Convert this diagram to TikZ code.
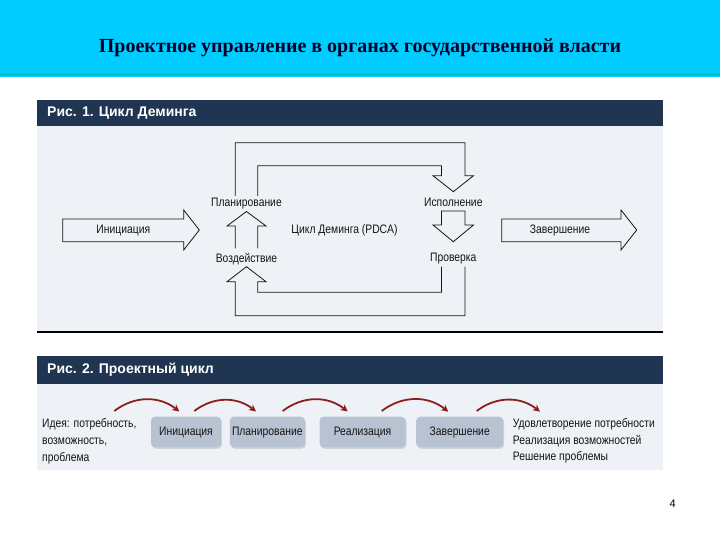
\documentclass[tikz,border=0pt]{standalone}
\usepackage{fontspec}
\setmainfont{Liberation Serif}
\newfontfamily\cond[FakeStretch=0.84]{Liberation Sans}
\newfontfamily\plainsans{Liberation Sans}
\usetikzlibrary{arrows.meta,shadows}
\definecolor{topcyan}{RGB}{0,204,255}
\definecolor{topline}{RGB}{0,188,214}
\definecolor{navy}{RGB}{31,53,82}
\definecolor{panel}{RGB}{238,242,246}
\definecolor{boxfill}{RGB}{183,195,211}
\definecolor{arrred}{RGB}{140,30,30}
\definecolor{ink}{RGB}{20,20,20}
\tikzset{
  lbl/.style={font=\cond\fontsize{12.3}{14}\selectfont, text=ink, inner sep=0pt},
  figtitle/.style={font=\plainsans\bfseries\fontsize{14}{16}\selectfont, text=white, anchor=west, inner sep=0pt},
  blockarrow/.style={draw=ink, line width=0.8pt, line join=miter},
  stagebox/.style={rounded corners=4pt, fill=boxfill, minimum height=30.6pt, inner xsep=0pt, inner ysep=0pt,
    text height=8.8pt, text depth=2.6pt,
    font=\cond\fontsize{12.3}{14}\selectfont, text=ink,
    drop shadow={opacity=0.25, shadow xshift=1pt, shadow yshift=-1.5pt}},
  redarrow/.style={draw=arrred, line width=1.8pt, -{Stealth[length=7pt,width=7pt]}},
  sidetext/.style={font=\cond\fontsize{12.3}{16.8}\selectfont, text=ink, align=left, anchor=north west, inner sep=0pt}
}
\begin{document}
\begin{tikzpicture}[x=1pt,y=-1pt]
\useasboundingbox (0,0) rectangle (720,540);
\fill[white] (0,0) rectangle (720,540);
% header band
\fill[topcyan] (0,0) rectangle (720,77);
\draw[topline, line width=2.5pt] (0,74.5) -- (720,74.5);
\node[font=\bfseries\fontsize{20}{24}\selectfont, text=black!85!blue] (title) at (360,48) {Проектное управление в органах государственной власти};

% ---------- Figure 1 ----------
\fill[panel] (37,126) rectangle (662.5,331.5);
\fill[navy] (37,100) rectangle (662.5,126.5);
\node[figtitle] (f1t) at (47,113) {Рис. 1. Цикл Деминга};
\draw[black, line width=1.2pt] (37,332) -- (662.5,332);

% text labels
\node[lbl] (plan) at (246.5,203.3) {Планирование};
\node[lbl] (act) at (246.5,259.3) {Воздействие};
\node[lbl] (do) at (453.3,202.3) {Исполнение};
\node[lbl] (check) at (453.3,258.3) {Проверка};
\node[lbl] (pdca) at (344.5,230) {Цикл Деминга (PDCA)};
\node[lbl] (init) at (123.3,230) {Инициация};
\node[lbl] (fin) at (560,230) {Завершение};

% Initiation arrow
\draw[blockarrow] (62.7,219) -- (183.7,219) -- (183.7,210) -- (199.3,230) -- (183.7,250) -- (183.7,241.7) -- (62.7,241.7) -- cycle;
% Completion arrow
\draw[blockarrow] (501.7,219) -- (621,219) -- (621,210) -- (636.7,230) -- (621,250) -- (621,241.7) -- (501.7,241.7) -- cycle;
% top loop: Plan -> Do
\draw[blockarrow] (235.3,196) -- (235.3,142.7) -- (465,142.7) -- (465,175.7) -- (473.5,175.7) -- (453.3,191.7) -- (433,175.7) -- (441.5,175.7) -- (441.5,165.7) -- (257.7,165.7) -- (257.7,196);
% Do -> Check
\draw[blockarrow] (441.5,225) -- (441.5,211) -- (465,211) -- (465,225) -- (473.5,225) -- (453.3,241.7) -- (433,225) -- cycle;
% Act -> Plan
\draw[blockarrow] (235.3,248.3) -- (235.3,226) -- (227,226) -- (246.5,211.5) -- (266,226) -- (257.7,226) -- (257.7,248.3);
% bottom loop: Check -> Act
\draw[blockarrow] (465,266.7) -- (465,315.7) -- (235.3,315.7) -- (235.3,281.7) -- (227,281.7) -- (246.5,266.7) -- (266,281.7) -- (257.7,281.7) -- (257.7,292.3) -- (441.5,292.3) -- (441.5,266.7);

% ---------- Figure 2 ----------
\fill[panel] (37,384) rectangle (662.5,470);
\fill[navy] (37,356) rectangle (662.5,384);
\node[figtitle] (f2t) at (47,370) {Рис. 2. Проектный цикл};

\node[sidetext] (idea) at (42,418.5) {Идея: потребность,\\возможность,\\проблема};
\node[sidetext] (result) at (512.7,418) {Удовлетворение потребности\\Реализация возможностей\\Решение проблемы};

\node[stagebox, minimum width=70pt] (b1) at (186,432) {Инициация};
\node[stagebox, minimum width=75pt] (b2) at (267.3,432) {Планирование};
\node[stagebox, minimum width=86pt] (b3) at (362.5,432) {Реализация};
\node[stagebox, minimum width=87pt] (b4) at (459.7,432) {Завершение};

\coordinate (a1s) at (114.3,411); \coordinate (a1e) at (179.3,411.5);
\coordinate (a2s) at (194.3,411); \coordinate (a2e) at (256,411.5);
\coordinate (a3s) at (282.7,411); \coordinate (a3e) at (347.7,411.5);
\coordinate (a4s) at (381.7,411); \coordinate (a4e) at (448.3,411.7);
\coordinate (a5s) at (476.7,411); \coordinate (a5e) at (540,411.7);
\foreach \i in {1,...,5}{
  \draw[redarrow] (a\i s) to[bend left=38] (a\i e);
}

\node[font=\plainsans\fontsize{11}{13}\selectfont] (pg) at (672.7,504) {4};
\end{tikzpicture}
\end{document}
